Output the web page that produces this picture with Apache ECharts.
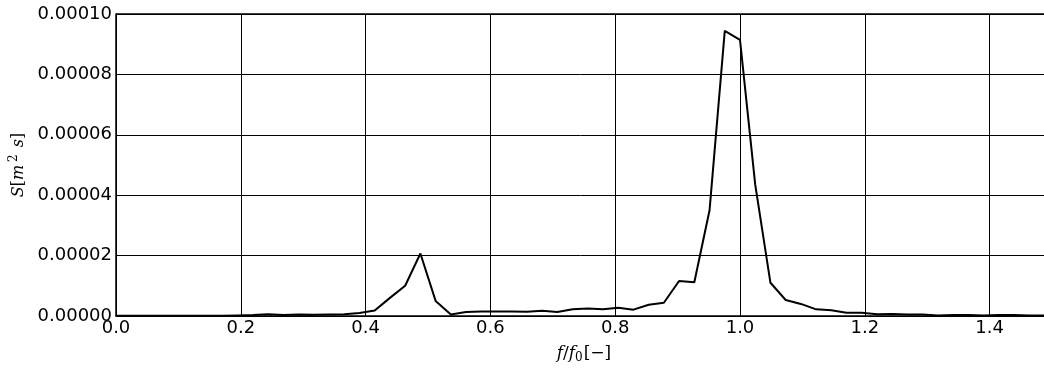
<!DOCTYPE html>
<html>
<head>
<meta charset="utf-8">
<script src="https://cdn.jsdelivr.net/npm/echarts@6/dist/echarts.min.js"></script>
<style>html,body{margin:0;padding:0;background:#fff;}#c{width:1044px;height:370px;}</style>
</head>
<body>
<div id="c"></div>
<script>
// f/f0 frequencies
var freq = [0.0000,0.0244,0.0488,0.0732,0.0976,0.1220,0.1463,0.1707,0.1951,0.2195,
  0.2439,0.2683,0.2927,0.3171,0.3415,0.3659,0.3902,0.4146,0.4390,0.4634,
  0.4878,0.5122,0.5366,0.5610,0.5854,0.6098,0.6341,0.6585,0.6829,0.7073,
  0.7317,0.7561,0.7805,0.8049,0.8293,0.8537,0.8780,0.9024,0.9268,0.9512,
  0.9756,1.0000,1.0244,1.0488,1.0732,1.0976,1.1220,1.1463,1.1707,1.1951,
  1.2195,1.2439,1.2683,1.2927,1.3171,1.3415,1.3659,1.3902,1.4146,1.4390,
  1.4634,1.4878];
// spectral density S [m^2 s]
var spectrum = [5e-8,5e-8,5e-8,5e-8,5e-8,5e-8,1e-7,1e-7,2e-7,3e-7,
  6e-7,3e-7,5e-7,4e-7,5e-7,6e-7,1.0e-6,1.8e-6,6.0e-6,1.0e-5,
  2.07e-5,5.0e-6,5e-7,1.3e-6,1.5e-6,1.5e-6,1.5e-6,1.4e-6,1.7e-6,1.3e-6,
  2.2e-6,2.5e-6,2.2e-6,2.7e-6,2.1e-6,3.7e-6,4.4e-6,1.16e-5,1.12e-5,3.5e-5,
  9.44e-5,9.14e-5,4.35e-5,1.1e-5,5.3e-6,4.0e-6,2.2e-6,1.9e-6,1.1e-6,1.1e-6,
  6e-7,7e-7,5e-7,5e-7,2e-7,3e-7,3e-7,2e-7,3e-7,3e-7,
  2e-7,2e-7];
var xTicks = [0.0,0.2,0.4,0.6,0.8,1.0,1.2,1.4];
var yTicks = [0.00000,0.00002,0.00004,0.00006,0.00008,0.00010];

var pts = freq.map(function(f,i){return [f, spectrum[i]];});
var chart = echarts.init(document.getElementById('c'), null, {renderer:'canvas'});
var tickFont = {fontFamily:'DejaVu Sans', fontSize:18, color:'#000'};
chart.setOption({
  animation:false,
  backgroundColor:'#fff',
  grid:{left:116, top:14, width:936, height:302, containLabel:false, outerBoundsMode:'none'},
  xAxis:{
    type:'value', min:0, max:1.5, interval:0.2,
    axisLine:{show:true, onZero:false, lineStyle:{color:'#000', width:1.5}},
    axisTick:{show:true, inside:true, length:5, lineStyle:{color:'#000'}},
    splitLine:{show:true, lineStyle:{color:'#000', width:1}},
    axisLabel:Object.assign({margin:3, showMaxLabel:false, formatter:function(v){
      for (var k=0;k<xTicks.length;k++){ if (Math.abs(v-xTicks[k])<1e-9) return xTicks[k].toFixed(1); }
      return '';
    }}, tickFont),
    name:'{i|f}{r|/}{i|f}{s|0}{r|[−]}',
    nameLocation:'middle', nameGap:28,
    nameTextStyle:{rich:{
      i:{fontFamily:'DejaVu Serif', fontStyle:'italic', fontSize:17, color:'#000'},
      r:{fontFamily:'DejaVu Serif', fontSize:17, color:'#000'},
      s:{fontFamily:'DejaVu Serif', fontSize:12, color:'#000', padding:[8,1,0,0]}
    }}
  },
  yAxis:{
    type:'value', min:0, max:0.0001, interval:0.00002,
    axisLine:{show:true, lineStyle:{color:'#000', width:1.5}},
    axisTick:{show:true, inside:true, length:5, lineStyle:{color:'#000'}},
    splitLine:{show:true, lineStyle:{color:'#000', width:1}},
    axisLabel:Object.assign({margin:4, formatter:function(v){
      for (var k=0;k<yTicks.length;k++){ if (Math.abs(v-yTicks[k])<1e-12) return yTicks[k].toFixed(5); }
      return '';
    }}, tickFont),
    name:'{i|S}{r|[}{i|m}{s|2}{i| s}{r|]}',
    nameLocation:'middle', nameGap:87, nameRotate:90,
    nameTextStyle:{rich:{
      i:{fontFamily:'DejaVu Serif', fontStyle:'italic', fontSize:16, color:'#000'},
      r:{fontFamily:'DejaVu Serif', fontSize:16, color:'#000'},
      s:{fontFamily:'DejaVu Serif', fontSize:12, color:'#000', padding:[0,2,9,3]}
    }}
  },
  series:[{
    type:'line', data:pts, showSymbol:false, symbol:'none', clip:true,
    lineStyle:{color:'#000', width:2}
  }]
});
// top border of the axes frame
chart.setOption({graphic:[{type:'line', shape:{x1:116, y1:14, x2:1052, y2:14}, style:{stroke:'#000', lineWidth:1.5}}]});
</script>
</body>
</html>
